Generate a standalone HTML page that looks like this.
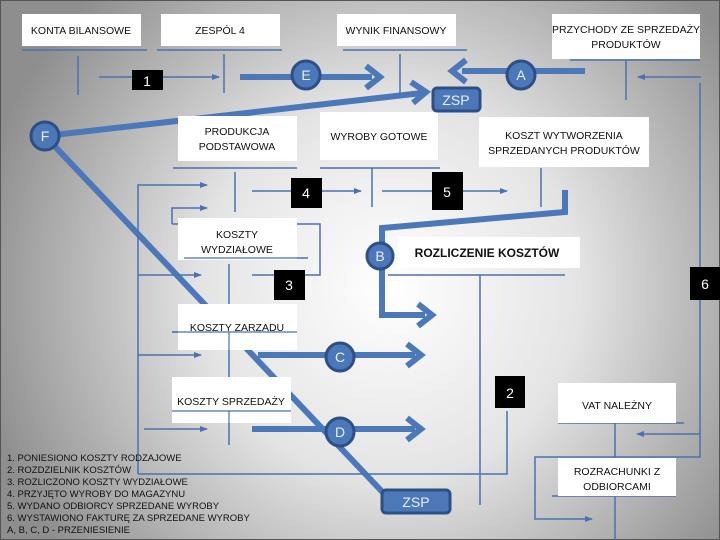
<!DOCTYPE html>
<html><head><meta charset="utf-8"><style>
html,body{margin:0;padding:0;}
svg{display:block;}
text{font-family:"Liberation Sans","DejaVu Sans",sans-serif;}
</style></head><body>
<svg width="720" height="540" viewBox="0 0 720 540" xmlns="http://www.w3.org/2000/svg">
<defs>
<radialGradient id="bg" cx="390" cy="290" r="420" gradientUnits="userSpaceOnUse">
<stop offset="0" stop-color="#ffffff"/><stop offset="0.45" stop-color="#e4e4e4"/><stop offset="1" stop-color="#8e8e8e"/>
</radialGradient>
<marker id="ta" markerWidth="8" markerHeight="6" refX="7" refY="3" orient="auto" markerUnits="userSpaceOnUse"><path d="M0,0 L8,3 L0,6z" fill="#4a72b0"/></marker>
</defs>
<rect x="0" y="0" width="720" height="540" fill="url(#bg)" stroke="#555" stroke-width="2"/>

<!-- thick lines -->
<g stroke="#4a78b8" stroke-width="6" fill="none" stroke-linecap="butt">
<line x1="45" y1="136" x2="422" y2="93"/>
<line x1="45" y1="136" x2="390" y2="500"/>
<line x1="240" y1="77" x2="372" y2="77"/>
<line x1="585" y1="71" x2="462" y2="71"/>
<polyline points="565,190 565,212 382,228 382,315 425,315"/>
<line x1="258" y1="355" x2="415" y2="355"/>
<line x1="252" y1="429" x2="415" y2="429"/>
</g>
<g stroke="#4a78b8" stroke-width="6" fill="none">
<polyline points="366,66 380,77 366,88"/>
<polyline points="466,60 452,71 466,82"/>
<polyline points="411,82 426,92 413,103"/>
<polyline points="418,304 432,315 418,326"/>
<polyline points="407,344 421,355 407,366"/>
<polyline points="407,418 421,429 407,440"/>
</g>

<!-- thin lines -->
<g stroke="#4a72b0" stroke-width="1.5" fill="none">
<line x1="22" y1="50" x2="147" y2="50"/><line x1="78" y1="56" x2="78" y2="95"/>
<line x1="157" y1="50" x2="282" y2="50"/><line x1="224" y1="54" x2="224" y2="93"/>
<line x1="99" y1="77" x2="219" y2="77" marker-end="url(#ta)"/>
<line x1="343" y1="50" x2="467" y2="50"/><line x1="400" y1="54" x2="400" y2="95"/>
<line x1="570" y1="60" x2="700" y2="60"/><line x1="626" y1="60" x2="626" y2="100"/>
<line x1="701" y1="77" x2="638" y2="77" marker-end="url(#ta)"/>
<polyline points="700,83 700,457 535,457 535,519 592,519" marker-end="url(#ta)"/>
<line x1="700" y1="434" x2="637" y2="434" marker-end="url(#ta)"/>
<line x1="173" y1="168" x2="297" y2="168"/><line x1="235" y1="172" x2="235" y2="212"/>
<line x1="320" y1="168" x2="440" y2="168"/><line x1="372" y1="168" x2="372" y2="207"/>
<line x1="252" y1="191" x2="361" y2="191" marker-end="url(#ta)"/>
<line x1="382" y1="191" x2="507" y2="191" marker-end="url(#ta)"/>
<line x1="541" y1="168" x2="541" y2="207"/>
<polyline points="138,474 138,185 207,185" marker-end="url(#ta)"/>
<polyline points="507,411 507,474 138,474"/>
<polyline points="172,224 172,208 207,208" marker-end="url(#ta)"/>
<polyline points="172,224 320,224 320,275 252,275"/>
<line x1="184" y1="258" x2="308" y2="258"/><line x1="229" y1="264" x2="229" y2="445"/>
<line x1="138" y1="275" x2="201" y2="275" marker-end="url(#ta)"/>
<line x1="138" y1="355" x2="201" y2="355" marker-end="url(#ta)"/>
<line x1="144" y1="429" x2="207" y2="429" marker-end="url(#ta)"/>
<line x1="172" y1="332" x2="297" y2="332"/>
<line x1="172" y1="411" x2="291" y2="411"/>
<line x1="388" y1="275" x2="565" y2="275"/><line x1="480" y1="275" x2="480" y2="505"/>
<line x1="558" y1="423" x2="684" y2="423"/><line x1="615" y1="423" x2="615" y2="458"/>
<line x1="552" y1="496" x2="676" y2="496"/><line x1="615" y1="496" x2="615" y2="540"/>
</g>

<!-- white boxes -->
<g fill="#fff">
<rect x="22" y="14" width="119" height="32"/>
<rect x="161" y="14" width="119" height="32"/>
<rect x="337" y="14" width="119" height="32"/>
<rect x="552" y="14" width="148" height="45"/>
<rect x="178" y="116" width="119" height="45"/>
<rect x="320" y="112" width="118" height="48"/>
<rect x="479" y="117" width="170" height="50"/>
<rect x="178" y="218" width="119" height="42"/>
<rect x="398" y="237" width="182" height="31"/>
<rect x="178" y="304" width="119" height="46"/>
<rect x="172" y="377" width="119" height="46"/>
<rect x="558" y="383" width="118" height="40"/>
<rect x="558" y="458" width="118" height="38"/>
</g>
<g stroke="#4a72b0" stroke-width="1.2">
<line x1="172" y1="332" x2="297" y2="332"/><line x1="172" y1="411" x2="291" y2="411"/>
<line x1="229" y1="332" x2="229" y2="350"/><line x1="229" y1="411" x2="229" y2="423"/>
<line x1="184" y1="258" x2="297" y2="258"/>
</g>

<g font-size="10.5" fill="#111" text-anchor="middle">
<text x="81" y="34">KONTA BILANSOWE</text>
<text x="220" y="34">ZESPÓL 4</text>
<text x="396" y="34">WYNIK FINANSOWY</text>
<text x="626" y="33">PRZYCHODY ZE SPRZEDAŻY</text>
<text x="626" y="48">PRODUKTÓW</text>
<text x="237" y="135">PRODUKCJA</text>
<text x="237" y="150">PODSTAWOWA</text>
<text x="379" y="140">WYROBY GOTOWE</text>
<text x="564" y="139">KOSZT WYTWORZENIA</text>
<text x="564" y="154">SPRZEDANYCH PRODUKTÓW</text>
<text x="237" y="238">KOSZTY</text>
<text x="237" y="253">WYDZIAŁOWE</text>
<text x="237" y="331">KOSZTY ZARZADU</text>
<text x="231" y="405">KOSZTY SPRZEDAŻY</text>
<text x="617" y="409">VAT NALEŻNY</text>
<text x="617" y="475">ROZRACHUNKI Z</text>
<text x="617" y="490">ODBIORCAMI</text>
<text x="487" y="257" font-weight="bold" font-size="12">ROZLICZENIE KOSZTÓW</text>
</g>

<!-- black number boxes -->
<g fill="#000"><rect x="132" y="70" width="31" height="20"/><rect x="291" y="178" width="31" height="30"/><rect x="432" y="172" width="31" height="38"/><rect x="274" y="270" width="31" height="30"/><rect x="495" y="376" width="30" height="32"/><rect x="690" y="267" width="30" height="33"/></g>
<g fill="#fff" font-size="14" text-anchor="middle">
<text x="147" y="86">1</text><text x="306" y="198">4</text><text x="447" y="197">5</text><text x="289" y="290">3</text><text x="510" y="398">2</text><text x="705" y="289">6</text>
</g>

<!-- circles -->
<g fill="#4a78b8" stroke="#2d4f85" stroke-width="3">
<circle cx="306" cy="75" r="14"/><circle cx="521" cy="75" r="14"/><circle cx="45" cy="136" r="14"/>
<circle cx="380" cy="256" r="13"/><circle cx="340" cy="357" r="14"/><circle cx="340" cy="432" r="14"/>
<rect x="433" y="88" width="47" height="23" rx="4"/><rect x="382" y="490" width="68" height="23" rx="4"/>
</g>
<g fill="#e8eef8" font-size="14" text-anchor="middle">
<text x="306" y="80">E</text><text x="521" y="80">A</text><text x="45" y="141">F</text>
<text x="380" y="261">B</text><text x="340" y="362">C</text><text x="340" y="437">D</text>
<text x="456" y="105">ZSP</text><text x="416" y="507">ZSP</text>
</g>

<g font-size="9.5" fill="#111">
<text x="7" y="461">1.   PONIESIONO KOSZTY RODZAJOWE</text>
<text x="7" y="473">2.   ROZDZIELNIK KOSZTÓW</text>
<text x="7" y="485">3.   ROZLICZONO KOSZTY WYDZIAŁOWE</text>
<text x="7" y="497">4.   PRZYJĘTO WYROBY DO MAGAZYNU</text>
<text x="7" y="509">5.   WYDANO ODBIORCY SPRZEDANE WYROBY</text>
<text x="7" y="521">6.   WYSTAWIONO FAKTURĘ ZA SPRZEDANE WYROBY</text>
<text x="7" y="533">A, B, C, D    -  PRZENIESIENIE</text>
</g>
</svg>
</body></html>
